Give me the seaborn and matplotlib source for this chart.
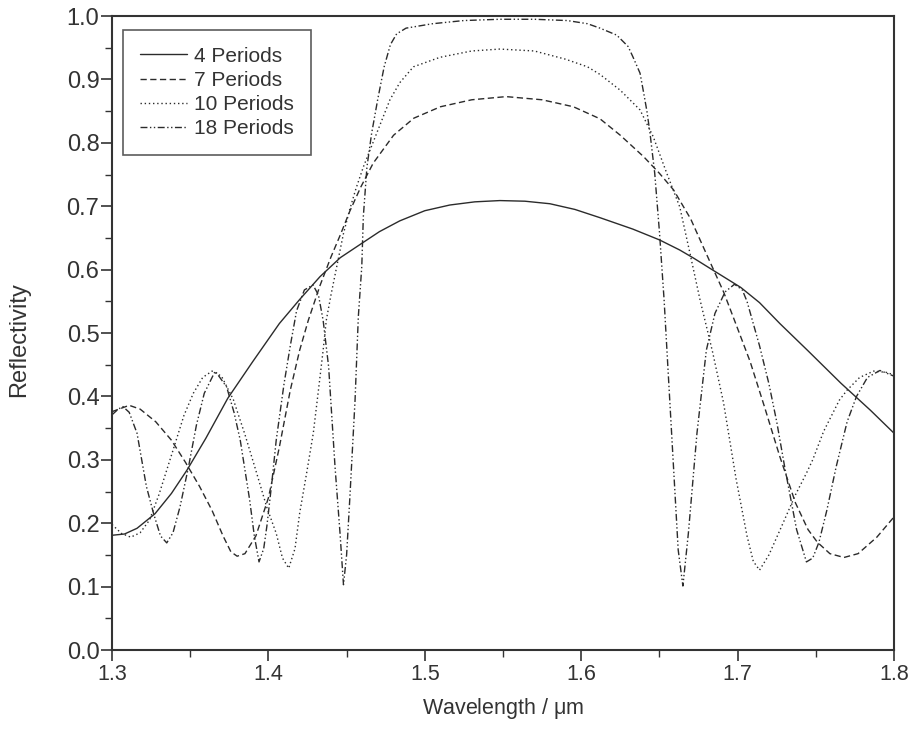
import matplotlib
matplotlib.use("Agg")
import matplotlib.pyplot as plt
import seaborn as sns
from matplotlib.ticker import MultipleLocator

# --- Data (wavelength in um, reflectivity) ---
wl_4 = [1.300, 1.308, 1.316, 1.3275, 1.338, 1.348, 1.360, 1.374, 1.390, 1.407,
        1.420, 1.433, 1.446, 1.460, 1.471, 1.484, 1.500, 1.516, 1.532, 1.548,
        1.564, 1.580, 1.596, 1.612, 1.633, 1.650, 1.663, 1.672, 1.685, 1.702,
        1.714, 1.727, 1.745, 1.766, 1.785, 1.800]
r_4 = [0.181, 0.183, 0.192, 0.215, 0.247, 0.284, 0.334, 0.397, 0.455, 0.515,
       0.553, 0.589, 0.619, 0.642, 0.660, 0.677, 0.693, 0.702, 0.707, 0.709,
       0.708, 0.704, 0.695, 0.682, 0.664, 0.647, 0.631, 0.618, 0.598, 0.572,
       0.548, 0.515, 0.472, 0.421, 0.378, 0.342]

wl_7 = [1.300, 1.311, 1.318, 1.328, 1.338, 1.347, 1.356, 1.364, 1.371, 1.376,
        1.380, 1.385, 1.392, 1.400, 1.407, 1.414, 1.420, 1.4255, 1.433, 1.440,
        1.446, 1.452, 1.459, 1.467, 1.480, 1.493, 1.510, 1.530, 1.552, 1.575,
        1.595, 1.612, 1.625, 1.640, 1.650, 1.659, 1.670, 1.680, 1.691, 1.698,
        1.708, 1.717, 1.727, 1.737, 1.745, 1.751, 1.759, 1.768, 1.777, 1.789,
        1.800]
r_7 = [0.376, 0.386, 0.380, 0.360, 0.331, 0.296, 0.258, 0.220, 0.180, 0.155,
       0.148, 0.152, 0.180, 0.240, 0.320, 0.410, 0.473, 0.520, 0.575, 0.620,
       0.655, 0.692, 0.730, 0.768, 0.812, 0.839, 0.857, 0.868, 0.873, 0.868,
       0.857, 0.838, 0.812, 0.778, 0.752, 0.726, 0.680, 0.625, 0.565, 0.520,
       0.455, 0.385, 0.305, 0.232, 0.190, 0.170, 0.152, 0.146, 0.152, 0.178,
       0.210]

wl_10 = [1.300, 1.306, 1.312, 1.318, 1.324, 1.330, 1.339, 1.346, 1.352, 1.358,
         1.364, 1.370, 1.3776, 1.385, 1.3925, 1.399, 1.405, 1.409, 1.413, 1.417,
         1.420, 1.4245, 1.4287, 1.432, 1.435, 1.437, 1.440, 1.4437, 1.448, 1.452,
         1.456, 1.4607, 1.4692, 1.4777, 1.484, 1.4927, 1.5097, 1.530, 1.548, 1.570,
         1.590, 1.604, 1.612, 1.625, 1.6376, 1.646, 1.6547, 1.663, 1.6696, 1.676,
         1.684, 1.691, 1.699, 1.706, 1.710, 1.714, 1.720, 1.729, 1.737, 1.744,
         1.748, 1.755, 1.765, 1.770, 1.778, 1.787, 1.795, 1.800]
r_10 = [0.198, 0.184, 0.178, 0.185, 0.205, 0.245, 0.315, 0.370, 0.405, 0.430,
        0.440, 0.432, 0.395, 0.340, 0.279, 0.225, 0.184, 0.145, 0.129, 0.160,
        0.216, 0.280, 0.342, 0.410, 0.473, 0.520, 0.560, 0.605, 0.657, 0.695,
        0.728, 0.762, 0.815, 0.868, 0.895, 0.920, 0.935, 0.945, 0.948, 0.945,
        0.932, 0.920, 0.908, 0.883, 0.852, 0.810, 0.752, 0.699, 0.625, 0.552,
        0.470, 0.390, 0.270, 0.180, 0.140, 0.126, 0.150, 0.200, 0.245, 0.279,
        0.300, 0.345, 0.394, 0.410, 0.430, 0.440, 0.438, 0.434]

wl_18 = [1.300, 1.304, 1.307, 1.311, 1.316, 1.322, 1.3265, 1.331, 1.335, 1.339,
         1.3435, 1.349, 1.354, 1.359, 1.366, 1.3733, 1.378, 1.382, 1.388, 1.391,
         1.394, 1.397, 1.399, 1.402, 1.405, 1.410, 1.414, 1.418, 1.423, 1.4285,
         1.432, 1.435, 1.4385, 1.4426, 1.4458, 1.448, 1.450, 1.452, 1.4554, 1.4575,
         1.4597, 1.4607, 1.463, 1.466, 1.470, 1.474, 1.478, 1.482, 1.488, 1.505,
         1.525, 1.548, 1.570, 1.591, 1.604, 1.612, 1.6227, 1.630, 1.633, 1.6376,
         1.640, 1.642, 1.644, 1.647, 1.650, 1.653, 1.659, 1.662, 1.665, 1.6685,
         1.674, 1.680, 1.6855, 1.692, 1.698, 1.703, 1.706, 1.714, 1.720, 1.725,
         1.730, 1.7377, 1.744, 1.748, 1.752, 1.757, 1.763, 1.770, 1.776, 1.783,
         1.791, 1.800]
r_18 = [0.371, 0.380, 0.384, 0.375, 0.342, 0.258, 0.216, 0.180, 0.169, 0.185,
        0.226, 0.290, 0.355, 0.405, 0.440, 0.415, 0.375, 0.331, 0.237, 0.180,
        0.139, 0.160, 0.195, 0.260, 0.331, 0.420, 0.480, 0.535, 0.568, 0.576,
        0.560, 0.520, 0.447, 0.289, 0.184, 0.103, 0.150, 0.237, 0.394, 0.526,
        0.605, 0.684, 0.762, 0.815, 0.870, 0.920, 0.955, 0.972, 0.981, 0.988,
        0.993, 0.995, 0.995, 0.993, 0.988, 0.981, 0.970, 0.952, 0.936, 0.910,
        0.878, 0.850, 0.815, 0.752, 0.660, 0.552, 0.289, 0.158, 0.101, 0.184,
        0.342, 0.473, 0.531, 0.565, 0.577, 0.568, 0.550, 0.480, 0.420, 0.360,
        0.290, 0.190, 0.139, 0.145, 0.170, 0.220, 0.289, 0.360, 0.400, 0.430,
        0.441, 0.432]

series_labels = ["4 Periods", "7 Periods", "10 Periods", "18 Periods"]

# --- Style ---
sns.set_theme(style="ticks")
plt.rcParams["font.family"] = ["Liberation Sans", "DejaVu Sans"]
plt.rcParams["mathtext.fontset"] = "custom"
plt.rcParams["mathtext.rm"] = "Liberation Sans"
plt.rcParams["mathtext.it"] = "Liberation Sans"

fig = plt.figure(figsize=(9.12, 7.32), dpi=100)
ax = fig.add_axes([0.1228, 0.112, 0.8575, 0.866])

line_color = "#2b2b2b"
styles = ["-", (0, (4.5, 2.5)), (0, (1, 2)), (0, (5, 1.8, 1, 1.8, 1, 1.8))]
all_data = [(wl_4, r_4), (wl_7, r_7), (wl_10, r_10), (wl_18, r_18)]

for (wl, r), lab, ls in zip(all_data, series_labels, styles):
    sns.lineplot(x=wl, y=r, ax=ax, color=line_color, linewidth=1.0,
                 linestyle=ls, label=lab, errorbar=None, sort=False)

# --- Axes ---
ax.set_xlim(1.3, 1.8)
ax.set_ylim(0.0, 1.0)
ax.xaxis.set_major_locator(MultipleLocator(0.1))
ax.xaxis.set_minor_locator(MultipleLocator(0.05))
ax.yaxis.set_major_locator(MultipleLocator(0.1))
ax.yaxis.set_minor_locator(MultipleLocator(0.05))
ax.xaxis.set_major_formatter(plt.FuncFormatter(lambda v, p: f"{v:.1f}"))
ax.yaxis.set_major_formatter(plt.FuncFormatter(lambda v, p: f"{v:.1f}"))
ax.tick_params(which="major", direction="out", length=8, width=1.2,
               color="#333333", labelcolor="#333333")
ax.tick_params(which="minor", direction="out", length=5, width=1.0,
               color="#333333")
ax.tick_params(axis="x", which="major", labelsize=15.5, pad=2)
ax.tick_params(axis="y", which="major", labelsize=17, pad=1)
for sp in ax.spines.values():
    sp.set_linewidth(1.5)
    sp.set_color("#333333")

ax.set_xlabel("Wavelength / $\\mu$m", fontsize=15.5, color="#333333", labelpad=8)
ax.set_ylabel("Reflectivity", fontsize=17, color="#333333")
ax.yaxis.set_label_coords(-0.105, 0.49)

leg = ax.legend(loc="upper left", bbox_to_anchor=(0.014, 0.978),
                borderaxespad=0, fontsize=15, handlelength=2.26,
                handletextpad=0.35, labelspacing=0.25, borderpad=0.8,
                frameon=True, fancybox=False, edgecolor="#333333")
leg.get_frame().set_linewidth(1.2)
for t in leg.get_texts():
    t.set_color("#333333")

fig.savefig("out.png", dpi=100, facecolor="white")
